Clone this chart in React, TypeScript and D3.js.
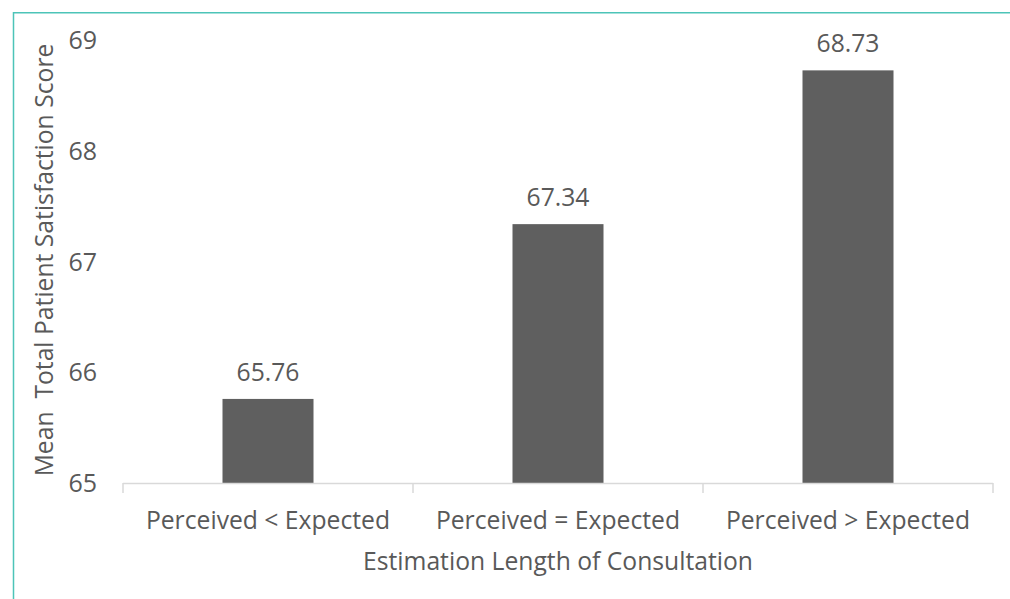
import React from "react";
import * as d3 from "d3";

const categories = ["Perceived < Expected", "Perceived = Expected", "Perceived > Expected"];
const values = [65.76, 67.34, 68.73];
const yTicks = [65, 66, 67, 68, 69];

const W = 1010;
const H = 599;
const FONT = "'Open Sans', sans-serif";
const TEXT = "#595959";
const FS = 24.7;

export default function App() {
  const x = d3.scaleBand<string>().domain(categories).range([123, 993]).paddingInner(0).paddingOuter(0);
  const y = d3.scaleLinear().domain([65, 69]).range([483, 40.5]);
  const bw = 91;

  return (
    <svg width={W} height={H} style={{ position: "absolute", left: 0, top: 0, background: "#fff" }}>
      <rect x={0} y={0} width={W} height={H} fill="#fff" />
      {/* frame */}
      <line x1={13.5} y1={12.75} x2={W} y2={12.75} stroke="#4dc4b8" strokeWidth={1.5} />
      <line x1={13.5} y1={12} x2={13.5} y2={H} stroke="#4dc4b8" strokeWidth={1.5} />

      {/* y tick labels */}
      {yTicks.map((t) => (
        <text key={t} x={97} y={y(t)} dy="0.35em" textAnchor="end" fontFamily={FONT} fontSize={25} fill={TEXT}>
          {t}
        </text>
      ))}

      {/* bars */}
      {categories.map((c, i) => {
        const cx = (x(c) as number) + x.bandwidth() / 2;
        return (
          <g key={c}>
            <rect x={cx - bw / 2} y={y(values[i])} width={bw} height={y(65) - y(values[i])} fill="#5f5f5f" />
            <text x={cx} y={y(values[i]) - 18} textAnchor="middle" fontFamily={FONT} fontSize={FS} fill={TEXT}>
              {values[i].toFixed(2)}
            </text>
            <text x={cx} y={529} textAnchor="middle" fontFamily={FONT} fontSize={FS} fill={TEXT}>
              {c}
            </text>
          </g>
        );
      })}

      {/* x axis */}
      <line x1={123} y1={483.5} x2={993} y2={483.5} stroke="#d9d9d9" strokeWidth={1.5} />
      {[0, 1, 2, 3].map((k) => {
        const xx = k < 3 ? (x(categories[k]) as number) : 993;
        return <line key={k} x1={xx} y1={483} x2={xx} y2={493} stroke="#d9d9d9" strokeWidth={1.5} />;
      })}

      {/* axis titles */}
      <text x={558} y={570} textAnchor="middle" fontFamily={FONT} fontSize={FS} fill={TEXT}>
        Estimation Length of Consultation
      </text>
      <text
        transform={`translate(53, ${260}) rotate(-90)`}
        textAnchor="middle"
        fontFamily={FONT}
        fontSize={FS}
        fill={TEXT}
        style={{ whiteSpace: "pre" }}
      >
        {"Mean  Total Patient Satisfaction Score"}
      </text>
    </svg>
  );
}
